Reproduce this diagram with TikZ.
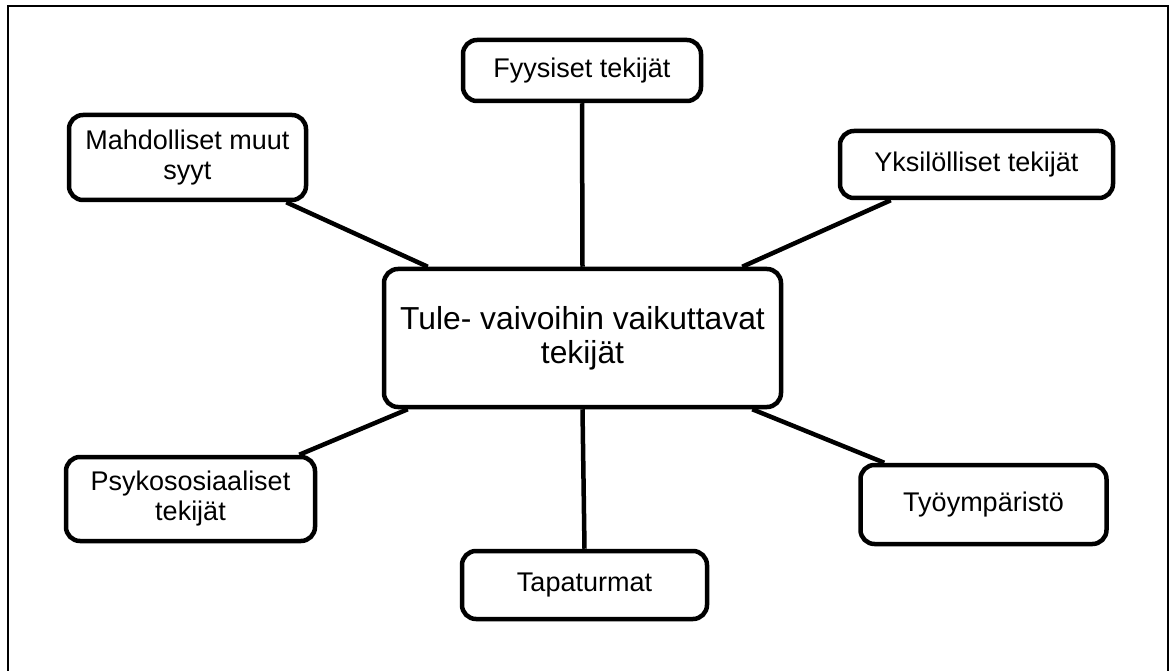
\documentclass[tikz,border=0pt]{standalone}
\usepackage{fontspec}
\setmainfont{Liberation Sans}
\usetikzlibrary{positioning}

\begin{document}
\begin{tikzpicture}[
    x=1pt, y=-1pt,
    block/.style={rectangle, draw=black, line width=4.5pt, rounded corners=14pt, fill=white, align=center, inner sep=2pt, font=\fontsize{27}{30}\selectfont},
    link/.style={line width=4.5pt, color=black}
]
\useasboundingbox (0,0) rectangle (1171,671);
\draw[line width=2pt] (8,671) -- (8,6) -- (1168,6) -- (1168,671);

\node[block, minimum width=397pt, minimum height=138pt, font=\fontsize{31.8}{34}\selectfont] (centre) at (582.5,338) {Tule- vaivoihin vaikuttavat\\tekijät};
\node[block, minimum width=238pt, minimum height=61pt] (fyys) at (582,70.5) {Fyysiset tekijät};
\node[block, minimum width=273pt, minimum height=67pt] (yksi) at (976.5,164.5) {Yksilölliset tekijät};
\node[block, minimum width=246pt, minimum height=79pt] (tyo) at (983.5,504.5) {Työympäristö};
\node[block, minimum width=245pt, minimum height=68pt] (tapa) at (584.5,585) {Tapaturmat};
\node[block, minimum width=249pt, minimum height=84pt] (psyko) at (190.5,499) {Psykososiaaliset\\tekijät};
\node[block, minimum width=237pt, minimum height=85pt] (mahd) at (187.5,157.5) {Mahdolliset muut\\syyt};

\draw[link] (fyys.south) -- (centre.north);
\draw[link] (centre.south) -- (tapa.north);
\draw[link] ([xshift=-22pt]mahd.south east) -- ([xshift=46pt]centre.north west);
\draw[link] ([xshift=53pt]yksi.south west) -- ([xshift=-41pt]centre.north east);
\draw[link] ([xshift=-18pt]psyko.north east) -- ([xshift=26pt]centre.south west);
\draw[link] ([xshift=-31pt]centre.south east) -- ([xshift=26pt]tyo.north west);
\end{tikzpicture}
\end{document}
